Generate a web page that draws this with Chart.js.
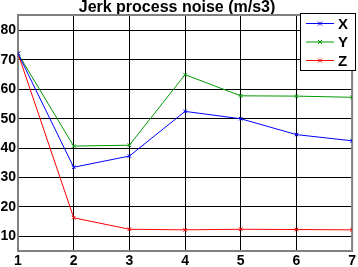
<!DOCTYPE html>
<html>
<head>
<meta charset="utf-8">
<script src="https://cdn.jsdelivr.net/npm/chart.js@4/dist/chart.umd.min.js"></script>
<style>
  html, body { margin: 0; padding: 0; background: #fff; }
  #wrap { width: 358px; height: 267px; }
</style>
</head>
<body>
<div id="wrap"><canvas id="lineChart" width="358" height="267"></canvas></div>
<script>
// data
const steps = [1, 2, 3, 4, 5, 6, 7];
const jerkX = [72.2, 33.5, 37.3, 52.5, 50.0, 44.6, 42.5];
const jerkY = [72.2, 40.7, 41.0, 65.0, 57.8, 57.7, 57.3];
const jerkZ = [72.2, 16.3, 12.4, 12.2, 12.4, 12.3, 12.2];
const yTicks = [10, 20, 30, 40, 50, 60, 70, 80];
const xTicks = [1, 2, 3, 4, 5, 6, 7];

const seriesNames = ['X', 'Y', 'Z'];
const seriesColors = ['#0000ff', '#009900', '#ff0000'];
const seriesData = [jerkX, jerkY, jerkZ];

const family = '"Liberation Sans", Arial, sans-serif';

// frame round the plot area
const framePlugin = {
    id: 'frame',
    beforeDatasetsDraw(chart) {
        const a = chart.chartArea;
        const ctx = chart.ctx;
        ctx.save();
        ctx.strokeStyle = '#808080';
        ctx.lineWidth = 2;
        ctx.strokeRect(a.left, a.top, a.right - a.left, a.bottom - a.top);
        ctx.restore();
    }
};

// boxed legend in the top right corner
const boxLegend = {
    id: 'boxLegend',
    afterDatasetsDraw(chart) {
        const ctx = chart.ctx;
        const x0 = 300.5, y0 = 13.5, w = 55, h = 57;
        ctx.save();
        ctx.fillStyle = '#fff';
        ctx.fillRect(x0, y0, w, h);
        ctx.strokeStyle = '#000';
        ctx.lineWidth = 1;
        ctx.strokeRect(x0, y0, w, h);
        ctx.font = 'bold 15px ' + family;
        ctx.textBaseline = 'middle';
        chart.data.datasets.forEach((ds, i) => {
            const y = 23.5 + i * 18.5;
            ctx.strokeStyle = ds.borderColor;
            ctx.beginPath();
            ctx.moveTo(306, y);
            ctx.lineTo(334, y);
            ctx.stroke();
            ctx.beginPath();
            ctx.moveTo(318, y - 2); ctx.lineTo(322, y + 2);
            ctx.moveTo(318, y + 2); ctx.lineTo(322, y - 2);
            ctx.stroke();
            ctx.fillStyle = '#000';
            ctx.fillText(ds.label, 338, y + 1);
        });
        ctx.restore();
    }
};

const ctx = document.getElementById('lineChart').getContext('2d');
const lineChart = new Chart(ctx, {
    type: 'line',
    data: {
        labels: steps,
        datasets: seriesNames.map((name, i) => ({
            label: name,
            data: steps.map((s, j) => ({ x: s, y: seriesData[i][j] })),
            borderColor: seriesColors[i],
            backgroundColor: seriesColors[i],
            borderWidth: 1,
            pointStyle: 'crossRot',
            pointRadius: 2.5,
            pointBorderWidth: 1,
            tension: 0,
            fill: false
        }))
    },
    options: {
        responsive: false,
        animation: false,
        devicePixelRatio: 1,
        layout: { padding: { top: 0, right: 4, left: 0, bottom: 0 } },
        plugins: {
            legend: { display: false },
            tooltip: { enabled: false },
            title: {
                display: true,
                text: 'Jerk process noise (m/s3)',
                color: '#000',
                font: { family: family, size: 16, weight: 'bold', lineHeight: 0.875 },
                padding: { top: 1, bottom: 0 }
            }
        },
        scales: {
            x: {
                type: 'linear',
                min: 1,
                max: 7,
                afterBuildTicks: axis => { axis.ticks = xTicks.map(v => ({ value: v })); },
                afterFit: axis => { axis.height = 16; },
                grid: { color: '#000', lineWidth: 1, drawTicks: false },
                border: { display: false },
                ticks: {
                    color: '#000',
                    padding: 2,
                    maxRotation: 0,
                    font: { family: family, size: 14, weight: 'bold' }
                }
            },
            y: {
                min: 5,
                max: 85.3,
                afterBuildTicks: axis => { axis.ticks = yTicks.map(v => ({ value: v })); },
                afterFit: axis => { axis.width = 18; },
                grid: { color: '#000', lineWidth: 1, drawTicks: false },
                border: { display: false },
                ticks: {
                    color: '#000',
                    padding: 2,
                    font: { family: family, size: 14, weight: 'bold' }
                }
            }
        }
    },
    plugins: [framePlugin, boxLegend]
});
</script>
</body>
</html>
